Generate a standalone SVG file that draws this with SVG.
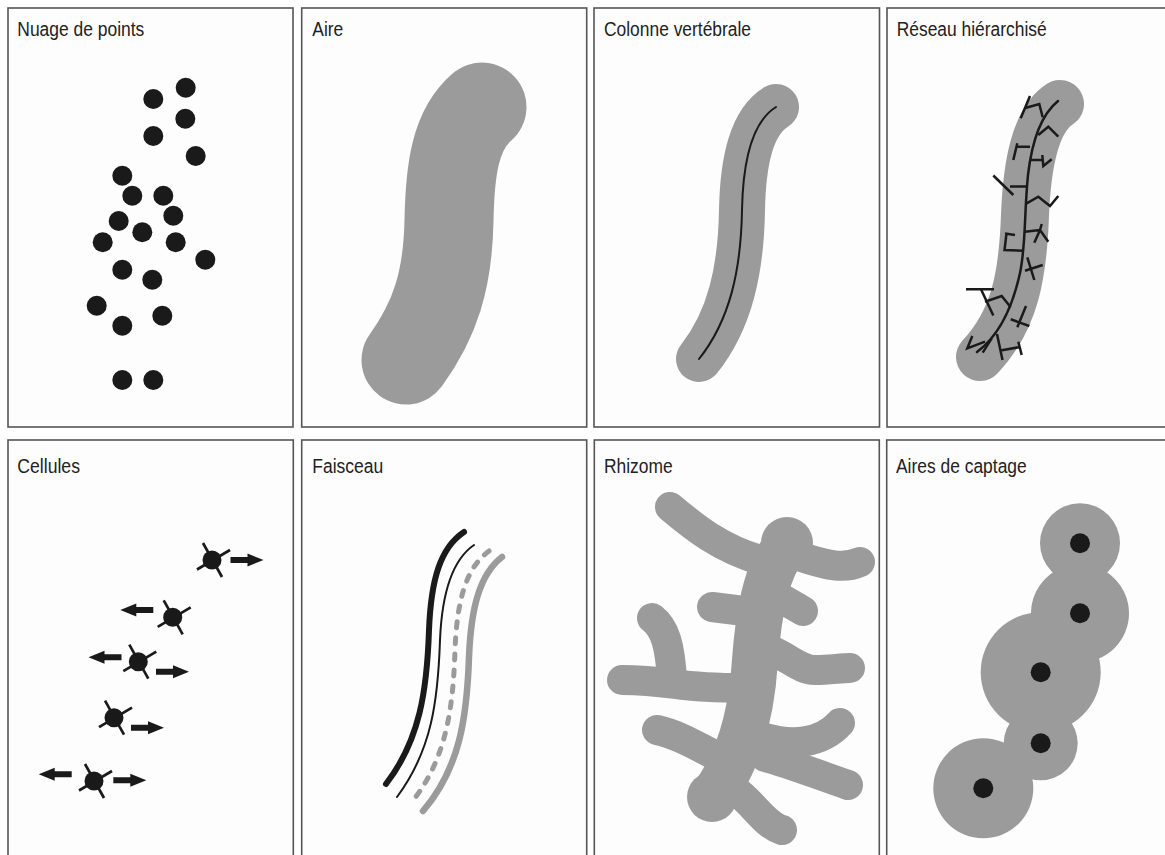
<svg xmlns="http://www.w3.org/2000/svg" xmlns:xlink="http://www.w3.org/1999/xlink" width="1165" height="855" viewBox="0 0 1165 855">
<style>
.frame{fill:#fdfdfd;stroke:#555;stroke-width:1.6}
.t{font-family:"Liberation Sans",Arial,sans-serif;font-size:20px;fill:#222}
.dot{fill:#1a1a1a}
.g{fill:none;stroke:#9b9b9b;stroke-linecap:round;stroke-linejoin:round}
.blk{fill:none;stroke:#1a1a1a;stroke-linecap:round}
.br{fill:none;stroke:#1a1a1a;stroke-width:2.5;stroke-linecap:butt;stroke-linejoin:miter}
.gc{fill:#9b9b9b}
</style>
<defs>
<g id="cell">
<circle r="9.5" fill="#1a1a1a"/>
<line x1="-9" y1="-17" x2="10" y2="17" stroke="#1a1a1a" stroke-width="2.7"/>
<line x1="-15" y1="9.5" x2="18" y2="-10" stroke="#1a1a1a" stroke-width="2.7"/>
</g>
<path id="arr" d="M0,-3 H17 V-6.5 L33,0 L17,6.5 V3 H0 Z" fill="#1a1a1a"/>
</defs>
<rect width="1165" height="855" fill="#fff"/>

<g id="nuage">
<rect class="frame" x="8" y="8" width="285" height="419"/>
<text class="t" x="17.3" y="36" textLength="127" lengthAdjust="spacingAndGlyphs">Nuage de points</text>
<g class="dot">
<circle cx="185.7" cy="87.7" r="10"/><circle cx="153.3" cy="99" r="10"/><circle cx="185.3" cy="118.7" r="10"/>
<circle cx="153.3" cy="136" r="10"/><circle cx="195.7" cy="156" r="10"/><circle cx="122.3" cy="175.7" r="10"/>
<circle cx="132.3" cy="195.7" r="10"/><circle cx="163.3" cy="195.7" r="10"/><circle cx="173.3" cy="215.7" r="10"/>
<circle cx="118.7" cy="221" r="10"/><circle cx="142.3" cy="232.3" r="10"/><circle cx="102.7" cy="242.3" r="10"/>
<circle cx="175.7" cy="242.3" r="10"/><circle cx="205.3" cy="259.7" r="10"/><circle cx="122.3" cy="269.7" r="10"/>
<circle cx="152.3" cy="279.7" r="10"/><circle cx="96.7" cy="305.7" r="10"/><circle cx="162.3" cy="315.7" r="10"/>
<circle cx="122.3" cy="325.7" r="10"/><circle cx="122.3" cy="380" r="10"/><circle cx="153.3" cy="380" r="10"/>
</g>
</g>

<g id="aire">
<rect class="frame" x="301.7" y="8" width="285" height="419"/>
<text class="t" x="312.3" y="36" textLength="31" lengthAdjust="spacingAndGlyphs">Aire</text>
<path class="g" stroke-width="89" d="M482,107 C455,130 450,170 449,220 C448,280 435,320 406,360"/>
</g>

<g id="colonne">
<rect class="frame" x="594" y="8" width="285.5" height="419"/>
<text class="t" x="604" y="36" textLength="147" lengthAdjust="spacingAndGlyphs">Colonne vertébrale</text>
<path class="g" stroke-width="46" d="M776,107 C752,122 743,160 742,210 C741,270 730,320 699,359"/>
<path class="blk" stroke-width="2" d="M776,107 C752,122 743,160 742,210 C741,270 730,320 699,359"/>
</g>

<g id="reseau">
<rect class="frame" x="887" y="8" width="290" height="419"/>
<text class="t" x="896.7" y="36" textLength="150" lengthAdjust="spacingAndGlyphs">Réseau hiérarchisé</text>
<path class="g" stroke-width="48" d="M1060,104 C1035,120 1027,165 1025,215 C1023,275 1015,320 980,357"/>
<path class="blk" stroke-width="2.5" d="M1058,101 C1042,114 1032,140 1028,175 C1024,215 1026,245 1020,273 C1013,305 1000,335 977,352"/>
<g class="br">
<path d="M1030,96 L1020.7,118.3 M1024.3,108.3 L1039.3,104 L1042.7,117.3"/>
<path d="M1038.3,135 L1048.3,126.7 L1058.3,136.7"/>
<path d="M1017.3,143.3 L1013.3,160 M1017.3,146.7 L1030,146.7"/>
<path d="M1030,160 L1041.7,160 M1042.3,155 L1043.3,166 L1051.7,159.3"/>
<path d="M1026.7,186.5 L1010,186.5 M993.3,175.5 L1013.3,195"/>
<path d="M1026.7,203.3 L1038.3,196.7 L1050,206 L1058.3,196"/>
<path d="M1025,231.7 L1040,230 M1040,230 L1034.3,242.7 M1040,230 L1048.3,241.7 M1040,230 L1041.7,224"/>
<path d="M1005,233.5 L1015,235 M1006.5,233.5 L1004.5,250 L1023.3,250.7"/>
<path d="M1027.3,257.3 L1034.3,280 M1025,270.7 L1042.7,265"/>
<path d="M966,289.3 L994,289.3 M981,289.3 L993.3,315.5 M985,301.7 L1001.7,296 L1010.7,307.3"/>
<path d="M1026,306 L1017.3,327.3 M1010.7,319.3 L1029.3,326"/>
<path d="M972.3,336 L967.3,348.3 L985,341.7 M991.7,338.3 L982.7,352.7"/>
<path d="M997,334 L1002.5,360 M1000.5,350.5 L1020,347 M1018.3,341.7 L1021.7,355"/>
</g>
</g>

<g id="cellules">
<rect class="frame" x="8" y="440" width="285.3" height="430"/>
<text class="t" x="17.3" y="472.5" textLength="62.7" lengthAdjust="spacingAndGlyphs">Cellules</text>
<use xlink:href="#cell" href="#cell" x="212" y="560"/>
<use xlink:href="#cell" href="#cell" x="172.7" y="617.3"/>
<use xlink:href="#cell" href="#cell" x="138.3" y="661.7"/>
<use xlink:href="#cell" href="#cell" x="114" y="717.7"/>
<use xlink:href="#cell" href="#cell" x="94" y="781"/>
<use xlink:href="#arr" href="#arr" transform="translate(230.5,560)"/>
<use xlink:href="#arr" href="#arr" transform="translate(153.3,610) scale(-1,1)"/>
<use xlink:href="#arr" href="#arr" transform="translate(121.5,657.3) scale(-1,1)"/>
<use xlink:href="#arr" href="#arr" transform="translate(156,671.7)"/>
<use xlink:href="#arr" href="#arr" transform="translate(131,727.7)"/>
<use xlink:href="#arr" href="#arr" transform="translate(71.7,774.3) scale(-1,1)"/>
<use xlink:href="#arr" href="#arr" transform="translate(113.3,780.3)"/>
</g>

<g id="faisceau">
<rect class="frame" x="301.7" y="440" width="285" height="430"/>
<text class="t" x="312.3" y="472.5" textLength="71" lengthAdjust="spacingAndGlyphs">Faisceau</text>
<path class="blk" stroke-width="6" d="M464,532 C440,548 431,580 429,630 C427,690 420,740 386,784"/>
<path class="blk" stroke-width="2" d="M474,545 C452,560 442,592 440,640 C438,700 432,750 397,797"/>
<path class="g" stroke-width="5" stroke-dasharray="6 10" d="M489,551 C466,568 457,600 455,650 C453,710 446,760 411,803"/>
<path class="g" stroke-width="6.5" d="M502,557 C480,574 471,607 469,657 C467,717 460,768 423,811"/>
</g>

<g id="rhizome">
<rect class="frame" x="594.3" y="440" width="285" height="430"/>
<text class="t" x="604" y="472.5" textLength="68.7" lengthAdjust="spacingAndGlyphs">Rhizome</text>
<g class="g" stroke-width="30">
<path d="M670,507 C695,528 720,548 760,560"/>
<path d="M790,554 C815,560 838,572 860,562"/>
<path d="M772,593 L803,611"/>
<path d="M712,607 L752,612"/>
<path d="M770,650 C790,658 800,670 815,670 C830,670 840,668 850,668"/>
<path d="M622,680 C640,680 660,682 675,684 C695,687 715,688 745,688"/>
<path d="M652,618 C665,628 670,645 672,680"/>
<path d="M657,730 C680,735 700,748 730,763"/>
<path d="M765,738 C790,745 820,745 840,723"/>
<path d="M765,757 C785,762 805,770 848,785"/>
<path d="M735,790 C755,805 765,825 782,830"/>
</g>
<path class="g" stroke-width="46" d="M787,545 C765,570 758,620 755,660 C752,710 740,760 712,797"/>
<circle class="gc" cx="787" cy="543" r="26"/>
<circle class="gc" cx="712" cy="797" r="25"/>
</g>

<g id="captage">
<rect class="frame" x="886.7" y="440" width="290" height="430"/>
<text class="t" x="896" y="472.5" textLength="130.7" lengthAdjust="spacingAndGlyphs">Aires de captage</text>
<g class="gc">
<circle cx="1080" cy="543.3" r="40"/>
<circle cx="1080" cy="613.3" r="49"/>
<circle cx="1040.7" cy="672.3" r="60"/>
<circle cx="1040.7" cy="743.3" r="37"/>
<circle cx="983.3" cy="788.3" r="50"/>
</g>
<g class="dot">
<circle cx="1080" cy="543.3" r="10"/>
<circle cx="1080" cy="613.3" r="10"/>
<circle cx="1040.7" cy="672.3" r="10"/>
<circle cx="1040.7" cy="743.3" r="10"/>
<circle cx="983.3" cy="788.3" r="10"/>
</g>
</g>
</svg>
